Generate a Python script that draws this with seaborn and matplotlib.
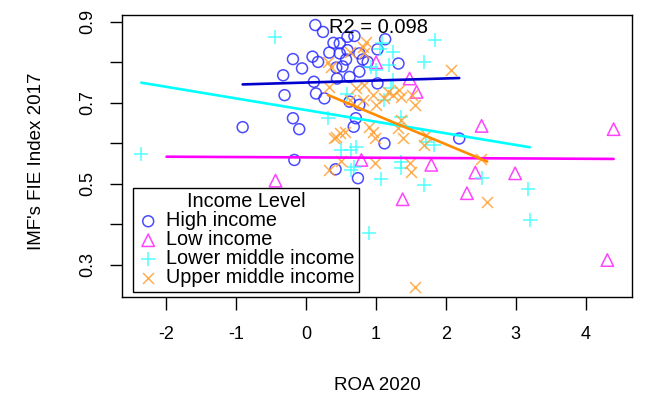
import numpy as np
import pandas as pd
import matplotlib
matplotlib.use("Agg")
import matplotlib.pyplot as plt
import seaborn as sns

sns.set_style("white")
plt.rcParams['font.family'] = ['Liberation Sans', 'DejaVu Sans']
plt.rcParams['axes.unicode_minus'] = False
plt.rcParams['text.color'] = 'black'
plt.rcParams['axes.labelcolor'] = 'black'
plt.rcParams['xtick.color'] = 'black'
plt.rcParams['ytick.color'] = 'black'

#%% data (ROA 2020 vs IMF FIE index 2017)
high_roa = [-0.91, -0.33, -0.19, -0.06, 0.09, 0.17, 0.13, 0.24, 0.39, 0.48,
            0.59, 0.69, 0.33, 0.48, 0.59, 0.57, 0.76, 0.81, 0.43, 0.44,
            0.11, -0.31, 0.14, 0.26, 0.62, 0.76, -0.19, -0.10, 0.68, 0.71,
            0.76, 1.02, 1.12, -0.17, 1.02, 1.13, 0.42, 0.74, 1.32, 2.19,
            0.62, 0.88, 0.52]
high_fie = [0.640, 0.768, 0.808, 0.785, 0.814, 0.801, 0.892, 0.875, 0.848, 0.847,
            0.863, 0.865, 0.824, 0.822, 0.830, 0.807, 0.822, 0.807, 0.787, 0.760,
            0.752, 0.719, 0.723, 0.711, 0.703, 0.695, 0.662, 0.635, 0.641, 0.662,
            0.777, 0.748, 0.600, 0.559, 0.832, 0.857, 0.536, 0.514, 0.797, 0.612,
            0.764, 0.801, 0.790]

# last point sits under the legend box (only its fit line shows)
low_roa = [4.40, 2.51, 1.48, 1.58, 1.00, -0.44, 0.79, 1.79, 2.42, 2.99,
           1.38, 2.30, 4.31, -2.00]
low_fie = [0.635, 0.643, 0.760, 0.727, 0.800, 0.508, 0.559, 0.547, 0.528, 0.526,
           0.462, 0.477, 0.312, 0.410]

lower_mid_roa = [-2.36, -0.45, 0.31, 0.50, 0.64, 0.71, 0.59, 1.00, 0.93, 1.05,
                 1.85, 1.69, 1.24, 1.09, 1.19, 1.21, 1.24, 1.12, 1.83, 1.71,
                 0.64, 1.07, 1.36, 1.36, 1.69, 2.52, 3.18, 3.20, 0.90, 0.69,
                 1.36]
lower_mid_fie = [0.574, 0.863, 0.662, 0.584, 0.584, 0.592, 0.723, 0.781, 0.789, 0.834,
                 0.855, 0.801, 0.826, 0.847, 0.793, 0.736, 0.756, 0.707, 0.596, 0.604,
                 0.534, 0.511, 0.555, 0.538, 0.497, 0.514, 0.487, 0.411, 0.378, 0.542,
                 0.666]

upper_mid_roa = [0.33, 0.36, 0.81, 0.83, 0.71, 0.83, 0.95, 1.12, 1.00, 0.43,
                 0.55, 0.95, 0.98, 0.90, 0.50, 0.98, 0.33, 0.85, 2.07, 0.62,
                 0.81, 1.24, 1.33, 1.36, 1.52, 1.55, 1.36, 1.31, 1.71, 1.69,
                 2.50, 0.48, 0.40, 1.48, 1.50, 2.59, 1.55, 0.31, 1.17, 0.62,
                 1.38]
upper_mid_fie = [0.740, 0.789, 0.838, 0.822, 0.736, 0.744, 0.719, 0.711, 0.695, 0.616,
                 0.629, 0.629, 0.612, 0.641, 0.557, 0.551, 0.534, 0.851, 0.781, 0.707,
                 0.707, 0.719, 0.732, 0.715, 0.719, 0.695, 0.658, 0.637, 0.620, 0.596,
                 0.561, 0.625, 0.612, 0.551, 0.530, 0.455, 0.246, 0.801, 0.727, 0.826,
                 0.612]

groups = ['High income', 'Low income', 'Lower middle income', 'Upper middle income']
r2_text = 'R2 = 0.098'

#%%
df = pd.concat([
    pd.DataFrame({'roa': high_roa, 'fie': high_fie, 'level': groups[0]}),
    pd.DataFrame({'roa': low_roa, 'fie': low_fie, 'level': groups[1]}),
    pd.DataFrame({'roa': lower_mid_roa, 'fie': lower_mid_fie, 'level': groups[2]}),
    pd.DataFrame({'roa': upper_mid_roa, 'fie': upper_mid_fie, 'level': groups[3]}),
], ignore_index=True)

point_col = {'High income': '#2b2bff', 'Low income': '#ff22ff',
             'Lower middle income': '#33ffff', 'Upper middle income': '#ffa033'}
line_col = {'High income': '#0000cc', 'Low income': '#ff00ff',
            'Lower middle income': '#00ffff', 'Upper middle income': '#ff8c00'}
marks = {'High income': ('o', 62, True), 'Low income': ('^', 80, True),
         'Lower middle income': ('+', 90, False), 'Upper middle income': ('x', 62, False)}

fig = plt.figure(figsize=(6.5, 3.98), dpi=100)
ax = fig.add_axes([0.188, 0.254, 0.784, 0.708])

for g in groups:
    sub = df[df.level == g]
    m, s, filled = marks[g]
    kw = dict(marker=m, s=s, linewidth=1.1, color=point_col[g], alpha=0.85)
    if filled:
        kw['facecolor'] = 'none'
        kw['edgecolor'] = point_col[g]
    sns.scatterplot(data=sub, x='roa', y='fie', ax=ax, label=g, **kw)

for g in groups:
    sub = df[df.level == g]
    sns.regplot(data=sub, x='roa', y='fie', ax=ax, scatter=False, ci=None,
                truncate=True, color=line_col[g], line_kws={'lw': 1.9})

ax.text(1.03, 0.885, r2_text, ha='center', va='center', fontsize=14.5)

ax.set_xlim(-2.634, 4.66)
ax.set_ylim(0.221, 0.9165)
ax.set_xticks([-2, -1, 0, 1, 2, 3, 4])
ax.set_yticks([0.3, 0.4, 0.5, 0.6, 0.7, 0.8, 0.9])
ax.set_yticklabels(['0.3', '', '0.5', '', '0.7', '', '0.9'])
ax.tick_params(axis='both', direction='out', length=9, width=1, color='black',
               labelsize=13, left=True, bottom=True)
ax.tick_params(axis='x', pad=12)
ax.tick_params(axis='y', pad=10)
plt.setp(ax.get_yticklabels(), rotation=90, va='center')
for sp in ax.spines.values():
    sp.set_visible(True)
    sp.set_color('black')
    sp.set_linewidth(1)

ax.set_xlabel('ROA 2020', fontsize=13.5, va='center')
ax.xaxis.set_label_coords(0.5, -0.316)
ax.set_ylabel("IMF's FIE Index 2017", fontsize=13.5, va='center')
ax.yaxis.set_label_coords(-0.169, 0.48)

leg = ax.legend(title='Income Level', loc='lower left', bbox_to_anchor=(0.021, 0.018),
                borderaxespad=0, frameon=True, fancybox=False, framealpha=1,
                edgecolor='black', fontsize=14.3, title_fontsize=14.3,
                labelspacing=0.0, handletextpad=0.35, handlelength=1.1,
                borderpad=0.22)
leg.get_frame().set_linewidth(1)
for h in leg.legend_handles:
    h.set_alpha(0.85)

fig.savefig('out.png', dpi=100)
